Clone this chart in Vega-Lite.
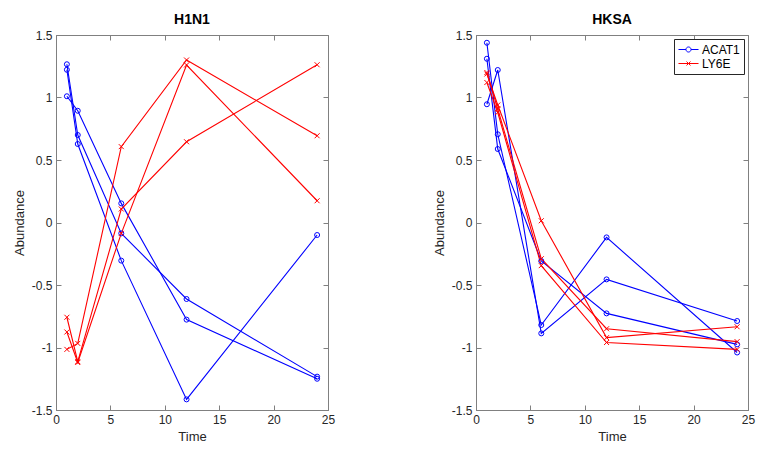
{
  "$schema": "https://vega.github.io/schema/vega-lite/v6.json",
  "padding": {"left": 12, "top": 12, "right": 0, "bottom": 0},
  "background": "white",
  "data": {"values": [
    {"panel":"H1N1","gene":"ACAT1","rep":"A1","time":1,"value":1.266},
    {"panel":"H1N1","gene":"ACAT1","rep":"A1","time":2,"value":0.70},
    {"panel":"H1N1","gene":"ACAT1","rep":"A1","time":6,"value":-0.087},
    {"panel":"H1N1","gene":"ACAT1","rep":"A1","time":12,"value":-0.612},
    {"panel":"H1N1","gene":"ACAT1","rep":"A1","time":24,"value":-1.233},
    {"panel":"H1N1","gene":"ACAT1","rep":"A2","time":1,"value":1.222},
    {"panel":"H1N1","gene":"ACAT1","rep":"A2","time":2,"value":0.628},
    {"panel":"H1N1","gene":"ACAT1","rep":"A2","time":6,"value":-0.305},
    {"panel":"H1N1","gene":"ACAT1","rep":"A2","time":12,"value":-1.415},
    {"panel":"H1N1","gene":"ACAT1","rep":"A2","time":24,"value":-0.10},
    {"panel":"H1N1","gene":"ACAT1","rep":"A3","time":1,"value":1.01},
    {"panel":"H1N1","gene":"ACAT1","rep":"A3","time":2,"value":0.894},
    {"panel":"H1N1","gene":"ACAT1","rep":"A3","time":6,"value":0.153},
    {"panel":"H1N1","gene":"ACAT1","rep":"A3","time":12,"value":-0.777},
    {"panel":"H1N1","gene":"ACAT1","rep":"A3","time":24,"value":-1.25},
    {"panel":"H1N1","gene":"LY6E","rep":"L1","time":1,"value":-0.758},
    {"panel":"H1N1","gene":"LY6E","rep":"L1","time":2,"value":-1.113},
    {"panel":"H1N1","gene":"LY6E","rep":"L1","time":6,"value":0.108},
    {"panel":"H1N1","gene":"LY6E","rep":"L1","time":12,"value":0.646},
    {"panel":"H1N1","gene":"LY6E","rep":"L1","time":24,"value":1.262},
    {"panel":"H1N1","gene":"LY6E","rep":"L2","time":1,"value":-0.876},
    {"panel":"H1N1","gene":"LY6E","rep":"L2","time":2,"value":-1.12},
    {"panel":"H1N1","gene":"LY6E","rep":"L2","time":6,"value":-0.087},
    {"panel":"H1N1","gene":"LY6E","rep":"L2","time":12,"value":1.26},
    {"panel":"H1N1","gene":"LY6E","rep":"L2","time":24,"value":0.174},
    {"panel":"H1N1","gene":"LY6E","rep":"L3","time":1,"value":-1.015},
    {"panel":"H1N1","gene":"LY6E","rep":"L3","time":2,"value":-0.967},
    {"panel":"H1N1","gene":"LY6E","rep":"L3","time":6,"value":0.607},
    {"panel":"H1N1","gene":"LY6E","rep":"L3","time":12,"value":1.30},
    {"panel":"H1N1","gene":"LY6E","rep":"L3","time":24,"value":0.694},
    {"panel":"HKSA","gene":"ACAT1","rep":"B1","time":1,"value":1.31},
    {"panel":"HKSA","gene":"ACAT1","rep":"B1","time":2,"value":0.588},
    {"panel":"HKSA","gene":"ACAT1","rep":"B1","time":6,"value":-0.308},
    {"panel":"HKSA","gene":"ACAT1","rep":"B1","time":12,"value":-0.727},
    {"panel":"HKSA","gene":"ACAT1","rep":"B1","time":24,"value":-0.975},
    {"panel":"HKSA","gene":"ACAT1","rep":"B2","time":1,"value":1.438},
    {"panel":"HKSA","gene":"ACAT1","rep":"B2","time":2,"value":0.706},
    {"panel":"HKSA","gene":"ACAT1","rep":"B2","time":6,"value":-0.82},
    {"panel":"HKSA","gene":"ACAT1","rep":"B2","time":12,"value":-0.119},
    {"panel":"HKSA","gene":"ACAT1","rep":"B2","time":24,"value":-1.04},
    {"panel":"HKSA","gene":"ACAT1","rep":"B3","time":1,"value":0.946},
    {"panel":"HKSA","gene":"ACAT1","rep":"B3","time":2,"value":1.22},
    {"panel":"HKSA","gene":"ACAT1","rep":"B3","time":6,"value":-0.887},
    {"panel":"HKSA","gene":"ACAT1","rep":"B3","time":12,"value":-0.455},
    {"panel":"HKSA","gene":"ACAT1","rep":"B3","time":24,"value":-0.788},
    {"panel":"HKSA","gene":"LY6E","rep":"R1","time":1,"value":1.20},
    {"panel":"HKSA","gene":"LY6E","rep":"R1","time":2,"value":0.908},
    {"panel":"HKSA","gene":"LY6E","rep":"R1","time":6,"value":-0.29},
    {"panel":"HKSA","gene":"LY6E","rep":"R1","time":12,"value":-0.85},
    {"panel":"HKSA","gene":"LY6E","rep":"R1","time":24,"value":-0.953},
    {"panel":"HKSA","gene":"LY6E","rep":"R2","time":1,"value":1.188},
    {"panel":"HKSA","gene":"LY6E","rep":"R2","time":2,"value":0.94},
    {"panel":"HKSA","gene":"LY6E","rep":"R2","time":6,"value":0.014},
    {"panel":"HKSA","gene":"LY6E","rep":"R2","time":12,"value":-0.921},
    {"panel":"HKSA","gene":"LY6E","rep":"R2","time":24,"value":-0.834},
    {"panel":"HKSA","gene":"LY6E","rep":"R3","time":1,"value":1.12},
    {"panel":"HKSA","gene":"LY6E","rep":"R3","time":2,"value":0.88},
    {"panel":"HKSA","gene":"LY6E","rep":"R3","time":6,"value":-0.345},
    {"panel":"HKSA","gene":"LY6E","rep":"R3","time":12,"value":-0.96},
    {"panel":"HKSA","gene":"LY6E","rep":"R3","time":24,"value":-1.015}
  ]},
  "config": {
    "font": "Liberation Sans",
    "view": {"stroke": "#808080", "strokeWidth": 1},
    "axis": {
      "labelFont": "Liberation Sans", "labelFontSize": 12, "labelColor": "#262626", "labelFlush": false,
      "titleFont": "Liberation Sans", "titleFontSize": 13, "titleFontWeight": "normal", "titleColor": "#262626",
      "domainColor": "#808080", "tickColor": "#808080", "tickSize": -5, "labelPadding": 9,
      "grid": false, "titlePadding": 5
    },
    "title": {"font": "Liberation Sans", "fontSize": 14, "fontWeight": "bold", "color": "#000000", "offset": 2}
  },
  "bounds": "flush",
  "spacing": 148,
  "resolve": {"legend": {"color": "independent"}},
  "hconcat": [
    {
      "width": 272, "height": 375,
      "title": "H1N1",
      "transform": [{"filter": "datum.panel === 'H1N1'"}],
      "layer": [
        {
          "mark": {"type": "line", "strokeWidth": 1.1},
          "encoding": {
            "x": {"field": "time", "type": "quantitative", "scale": {"domain": [0, 25], "nice": false}, "axis": {"title": "Time", "values": [0,5,10,15,20,25], "labelExpr": "'' + datum.value"}},
            "y": {"field": "value", "type": "quantitative", "scale": {"domain": [-1.5, 1.5], "nice": false}, "axis": {"title": "Abundance", "values": [-1.5,-1,-0.5,0,0.5,1,1.5], "labelExpr": "'' + datum.value"}},
            "color": {"field": "gene", "type": "nominal", "scale": {"domain": ["ACAT1","LY6E"], "range": ["#0000ff","#ff0000"]}, "legend": null},
            "detail": {"field": "rep"}
          }
        },
        {
          "transform": [{"filter": "datum.gene === 'ACAT1'"}],
          "mark": {"type": "point", "filled": false, "strokeWidth": 1, "size": 25, "opacity": 1, "shape": "circle", "color": "#0000ff"},
          "encoding": {
            "x": {"field": "time", "type": "quantitative", "scale": {"domain": [0, 25], "nice": false}, "axis": {"orient": "top", "title": null, "labels": false, "domain": false, "values": [0,5,10,15,20,25]}},
            "y": {"field": "value", "type": "quantitative", "scale": {"domain": [-1.5, 1.5], "nice": false}, "axis": {"orient": "right", "title": null, "labels": false, "domain": false, "values": [-1.5,-1,-0.5,0,0.5,1,1.5]}}
          }
        },
        {
          "transform": [{"filter": "datum.gene === 'LY6E'"}],
          "mark": {"type": "point", "filled": false, "strokeWidth": 1, "size": 25, "opacity": 1, "shape": "M-1,-1L1,1M-1,1L1,-1", "color": "#ff0000"},
          "encoding": {
            "x": {"field": "time", "type": "quantitative", "scale": {"domain": [0, 25], "nice": false}, "axis": null},
            "y": {"field": "value", "type": "quantitative", "scale": {"domain": [-1.5, 1.5], "nice": false}, "axis": null}
          }
        }
      ],
      "resolve": {"axis": {"x": "independent", "y": "independent"}}
    },
    {
      "width": 272, "height": 375,
      "title": "HKSA",
      "transform": [{"filter": "datum.panel === 'HKSA'"}],
      "layer": [
        {
          "mark": {"type": "line", "strokeWidth": 1.1},
          "encoding": {
            "x": {"field": "time", "type": "quantitative", "scale": {"domain": [0, 25], "nice": false}, "axis": {"title": "Time", "values": [0,5,10,15,20,25], "labelExpr": "'' + datum.value"}},
            "y": {"field": "value", "type": "quantitative", "scale": {"domain": [-1.5, 1.5], "nice": false}, "axis": {"title": "Abundance", "values": [-1.5,-1,-0.5,0,0.5,1,1.5], "labelExpr": "'' + datum.value"}},
            "color": {"field": "gene", "type": "nominal", "scale": {"domain": ["ACAT1","LY6E"], "range": ["#0000ff","#ff0000"]},
              "legend": {
                "title": null, "orient": "top-right", "offset": 4,
                "strokeColor": "#262626", "fillColor": "white", "padding": 4,
                "labelFont": "Liberation Sans", "labelFontSize": 12, "labelColor": "#000000",
                "symbolSize": 144, "symbolOffset": 4, "labelOffset": 7, "rowPadding": 1, "symbolStrokeWidth": 1,
                "encode": {"symbols": {"update": {
                  "shape": {"signal": "datum.value === 'ACAT1' ? 'M-1.67,0H-0.42M0.42,0H1.67M-0.42,0A0.42,0.42 0 1,0 0.42,0A0.42,0.42 0 1,0 -0.42,0' : 'M-1.67,0H1.67M-0.33,-0.33L0.33,0.33M-0.33,0.33L0.33,-0.33'"},
                  "stroke": {"signal": "datum.value === 'ACAT1' ? '#0000ff' : '#ff0000'"},
                  "fill": {"value": "transparent"},
                  "strokeWidth": {"value": 1}
                }}}
              }
            },
            "detail": {"field": "rep"}
          }
        },
        {
          "transform": [{"filter": "datum.gene === 'ACAT1'"}],
          "mark": {"type": "point", "filled": false, "strokeWidth": 1, "size": 25, "opacity": 1, "shape": "circle", "color": "#0000ff"},
          "encoding": {
            "x": {"field": "time", "type": "quantitative", "scale": {"domain": [0, 25], "nice": false}, "axis": {"orient": "top", "title": null, "labels": false, "domain": false, "values": [0,5,10,15,20,25]}},
            "y": {"field": "value", "type": "quantitative", "scale": {"domain": [-1.5, 1.5], "nice": false}, "axis": {"orient": "right", "title": null, "labels": false, "domain": false, "values": [-1.5,-1,-0.5,0,0.5,1,1.5]}}
          }
        },
        {
          "transform": [{"filter": "datum.gene === 'LY6E'"}],
          "mark": {"type": "point", "filled": false, "strokeWidth": 1, "size": 25, "opacity": 1, "shape": "M-1,-1L1,1M-1,1L1,-1", "color": "#ff0000"},
          "encoding": {
            "x": {"field": "time", "type": "quantitative", "scale": {"domain": [0, 25], "nice": false}, "axis": null},
            "y": {"field": "value", "type": "quantitative", "scale": {"domain": [-1.5, 1.5], "nice": false}, "axis": null}
          }
        }
      ],
      "resolve": {"axis": {"x": "independent", "y": "independent"}}
    }
  ]
}
